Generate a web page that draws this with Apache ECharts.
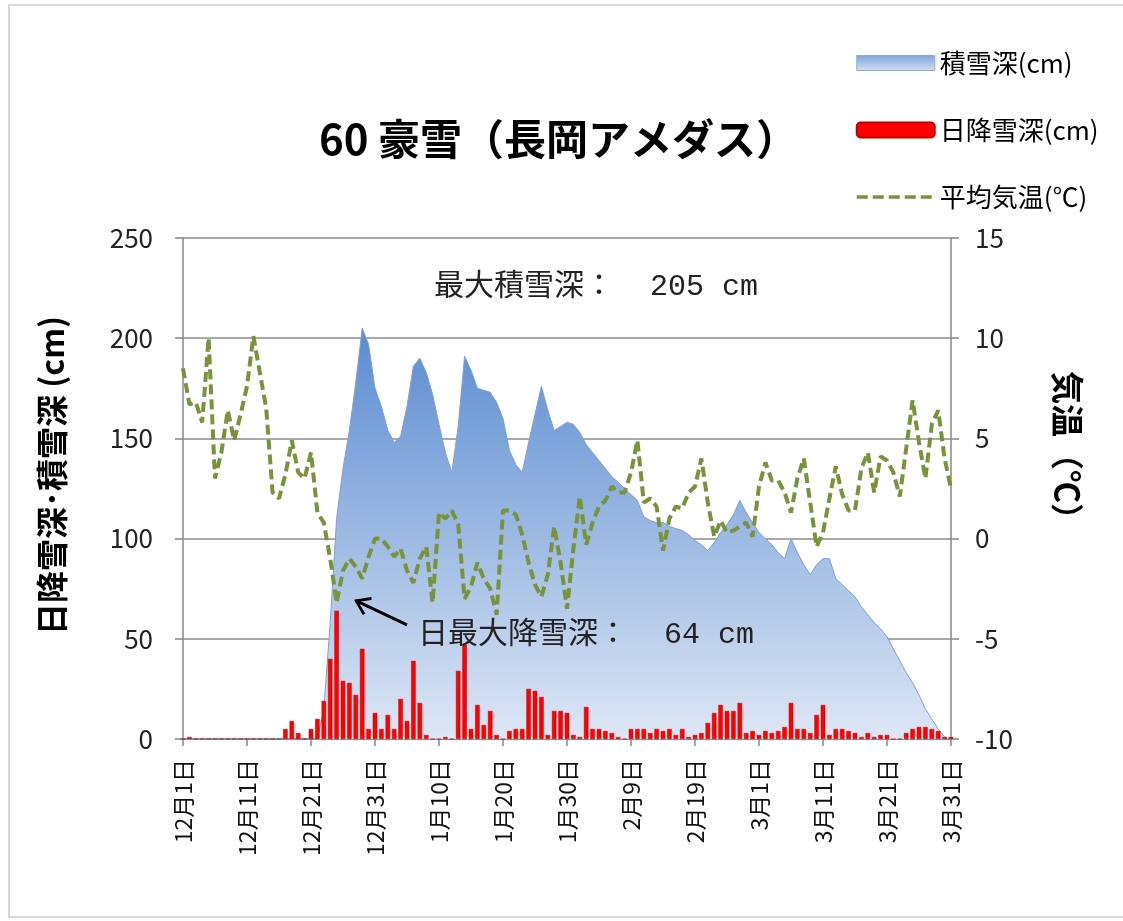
<!DOCTYPE html>
<html>
<head>
<meta charset="utf-8">
<script src="https://cdn.jsdelivr.net/npm/echarts@6/dist/echarts.min.js"></script>
<style>
html,body{margin:0;padding:0;background:#fff;}
#c{width:1123px;height:921px;}
#frame{position:absolute;left:8px;top:4px;width:1130px;height:914px;border:2px solid #d9d9d9;box-sizing:border-box;pointer-events:none;}
</style>
</head>
<body>
<div id="c"></div>
<div id="frame"></div>
<script>
// ---- data ----
const months = [12, 1, 2, 3];
const monthDays = [31, 31, 28, 31];
const categories = [];
months.forEach(function (m, k) { for (let d = 1; d <= monthDays[k]; d++) categories.push(m + '月' + d + '日'); });

// 積雪深 (cm), Dec 1 .. Mar 31
const snowDepth = [
  0,0,0,0,0,0,0,0,0,0, 0,0,0,0,0,0,0,0,0,0,
  0,0,15,58,110,135,154,178,205,197, 175,166,154,148,151,166,186,190,183,172,
  157,143,133,156,191,184,175,174,173,168, 160,144,137,133,148,162,176,164,154,156,
  158,157,153,147,143,139,135,131,128,125, 122,119,111,109,108,108,106,105,104,102,
  99,97,94,98,103,107,112,119,113,108, 103,100,97,93,90,100,93,87,82,87,
  90,90,80,77,74,71,66,62,58,55, 51,45,39,33,28,22,15,10,5,1,
  0
];
// 日降雪深 (cm)
const snowfall = [
  0,1,0,0,0,0,0,0,0,0, 0,0,0,0,0,0,5,9,3,0,
  5,10,19,40,64,29,28,22,45,5, 13,5,12,5,20,9,39,18,2,0,
  0,1,0,34,47,5,17,7,14,2, 0,4,5,5,25,24,21,2,14,14,
  13,2,1,16,5,5,4,3,1,0, 5,5,5,3,5,4,5,2,5,1,
  2,3,8,13,17,14,14,18,3,4, 2,4,3,4,6,18,5,5,3,12,
  17,2,5,5,4,3,1,3,1,2, 2,0,0,3,5,6,6,5,4,1,
  1
];
// 平均気温 (℃)
const meanTemp = [
  8.5,6.7,6.8,5.8,10.0,3.0,4.3,6.4,4.9,6.2, 7.6,10.1,8.3,6.5,2.3,2.0,3.2,4.9,3.3,3.0,
  4.3,1.3,0.8,-1.0,-3.2,-1.6,-1.0,-1.4,-2.0,-0.9, 0.0,0.0,-0.4,-0.9,-0.5,-1.6,-2.2,-1.0,-0.4,-3.2,
  1.3,1.0,1.4,0.7,-3.0,-2.4,-1.2,-2.0,-2.5,-3.8, 1.4,1.4,1.2,0.2,-1.2,-2.3,-2.9,-1.8,0.6,-1.2,
  -3.5,-0.5,2.1,-0.3,0.8,1.6,1.9,2.6,2.3,2.3, 3.3,4.9,1.8,2.0,1.6,-0.6,1.0,1.6,1.5,2.3,
  2.6,4.0,1.8,0.1,0.9,0.3,0.4,0.6,0.8,0.1, 2.6,3.8,2.9,2.9,2.3,1.3,3.0,4.0,1.8,-0.4,
  0.3,2.0,3.6,2.2,1.4,1.4,3.5,4.3,2.3,4.1, 3.9,3.3,2.1,4.5,6.9,4.8,3.0,5.7,6.4,4.0,
  2.5
];
const depthAxis = { min: 0, max: 250, interval: 50 };
const tempAxis = { min: -10, max: 15, interval: 5 };
const maxDepthText = '最大積雪深：  205 cm';
const maxFallText = '日最大降雪深：  64 cm';
// arrow from annotation text to the 64 cm bar (category index, cm)
const arrowFrom = [35, 57];
const arrowTo = [27, 69];

// ---- chart ----
const FONT = '"Noto Sans CJK JP", "Noto Sans", sans-serif';
const MONO = '"Liberation Mono", "Noto Sans CJK JP", monospace';
const chart = echarts.init(document.getElementById('c'), null, { renderer: 'canvas' });
const areaGrad = new echarts.graphic.LinearGradient(0, 0, 0, 1, [
  { offset: 0, color: '#5a8bd1' }, { offset: 1, color: '#dee7f5' }
]);
const legendGrad = new echarts.graphic.LinearGradient(0, 0, 0, 1, [
  { offset: 0, color: '#7ea3da' }, { offset: 1, color: '#d4e0f2' }
]);
const option = {
  animation: false,
  backgroundColor: '#fff',
  title: [
    { text: '60 豪雪（長岡アメダス）', left: 314, top: 113,
      textStyle: { fontSize: 42, fontWeight: 'bold', fontFamily: FONT, color: '#000' } },
    { text: maxDepthText, left: 429, top: 267,
      textStyle: { fontSize: 30, fontWeight: 'normal', fontFamily: MONO, color: '#222' } },
    { text: maxFallText, left: 413, top: 615,
      textStyle: { fontSize: 30, fontWeight: 'normal', fontFamily: MONO, color: '#222' } }
  ],
  legend: {
    orient: 'vertical', left: 850, top: 45, itemWidth: 78, itemHeight: 15, itemGap: 41,
    textStyle: { fontSize: 26, fontFamily: FONT, color: '#000', lineHeight: 24 },
    data: [
      { name: '積雪深(cm)', icon: 'rect', itemStyle: { color: legendGrad, borderColor: '#8eaadb', borderWidth: 1 } },
      { name: '日降雪深(cm)', icon: 'roundRect', itemStyle: { color: '#ff0000' } },
      { name: '平均気温(℃)', itemStyle: { opacity: 0 }, lineStyle: { width: 3.5, type: [11, 5] } }
    ]
  },
  grid: { left: 183, right: 172, top: 238, bottom: 182 },
  xAxis: {
    type: 'category', data: categories, boundaryGap: false,
    axisLine: { lineStyle: { color: '#868686', width: 1.5 } },
    axisTick: { interval: 9, length: 7, lineStyle: { color: '#868686', width: 1.5 } },
    axisLabel: { interval: 9, rotate: 90, fontSize: 23, color: '#111', fontFamily: FONT, margin: 20 },
    splitLine: { show: false }
  },
  yAxis: [
    { type: 'value', min: depthAxis.min, max: depthAxis.max, interval: depthAxis.interval,
      name: '日降雪深･積雪深 (cm)', nameLocation: 'middle', nameRotate: 90, nameGap: 115,
      nameTextStyle: { fontSize: 32, fontWeight: 'bold', fontFamily: FONT, color: '#000', padding: [0, 0, 0, 26] },
      axisLine: { show: true, lineStyle: { color: '#868686', width: 1.5 } },
      axisTick: { show: true, length: 8, lineStyle: { color: '#868686', width: 1.5 } },
      axisLabel: { fontSize: 26, color: '#222', fontFamily: FONT, margin: 30 },
      splitLine: { show: true, lineStyle: { color: '#8c8c8c', width: 1.5 } } },
    { type: 'value', min: tempAxis.min, max: tempAxis.max, interval: tempAxis.interval, position: 'right',
      name: '気温（℃）', nameLocation: 'middle', nameRotate: -90, nameGap: 100,
      nameTextStyle: { fontSize: 33, fontWeight: 'bold', fontFamily: FONT, color: '#000', padding: [0, 70, 0, 0] },
      axisLine: { show: true, lineStyle: { color: '#868686', width: 1.5 } },
      axisTick: { show: true, length: 8, lineStyle: { color: '#868686', width: 1.5 } },
      axisLabel: { fontSize: 26, color: '#222', fontFamily: FONT, margin: 24 },
      splitLine: { show: false } }
  ],
  series: [
    { name: '積雪深(cm)', type: 'line', data: snowDepth, yAxisIndex: 0, symbol: 'none',
      lineStyle: { width: 1, color: '#7f9fd6' }, itemStyle: { color: '#7f9fd6' },
      areaStyle: { color: areaGrad, opacity: 1 }, z: 1 },
    { name: '日降雪深(cm)', type: 'bar', data: snowfall, yAxisIndex: 0, barWidth: 4.5,
      itemStyle: { color: '#ff0000', borderColor: '#c00000', borderWidth: 0.5 }, z: 2,
      markLine: {
        silent: true, animation: false,
        symbol: ['none', 'path://M0,0 L10,14 L7.5,15.5 L0,4.5 L-7.5,15.5 L-10,14 Z'],
        symbolSize: [20, 16], symbolOffset: [0, [0, 6]],
        label: { show: false },
        lineStyle: { color: '#000', width: 3, type: 'solid' },
        data: [[{ coord: arrowFrom }, { coord: arrowTo }]]
      } },
    { name: '平均気温(℃)', type: 'line', data: meanTemp, yAxisIndex: 1, symbol: 'none',
      lineStyle: { color: '#77933c', width: 4, type: [10, 5] }, itemStyle: { color: '#77933c' }, z: 3 }
  ]
};
chart.setOption(option);
</script>
</body>
</html>
